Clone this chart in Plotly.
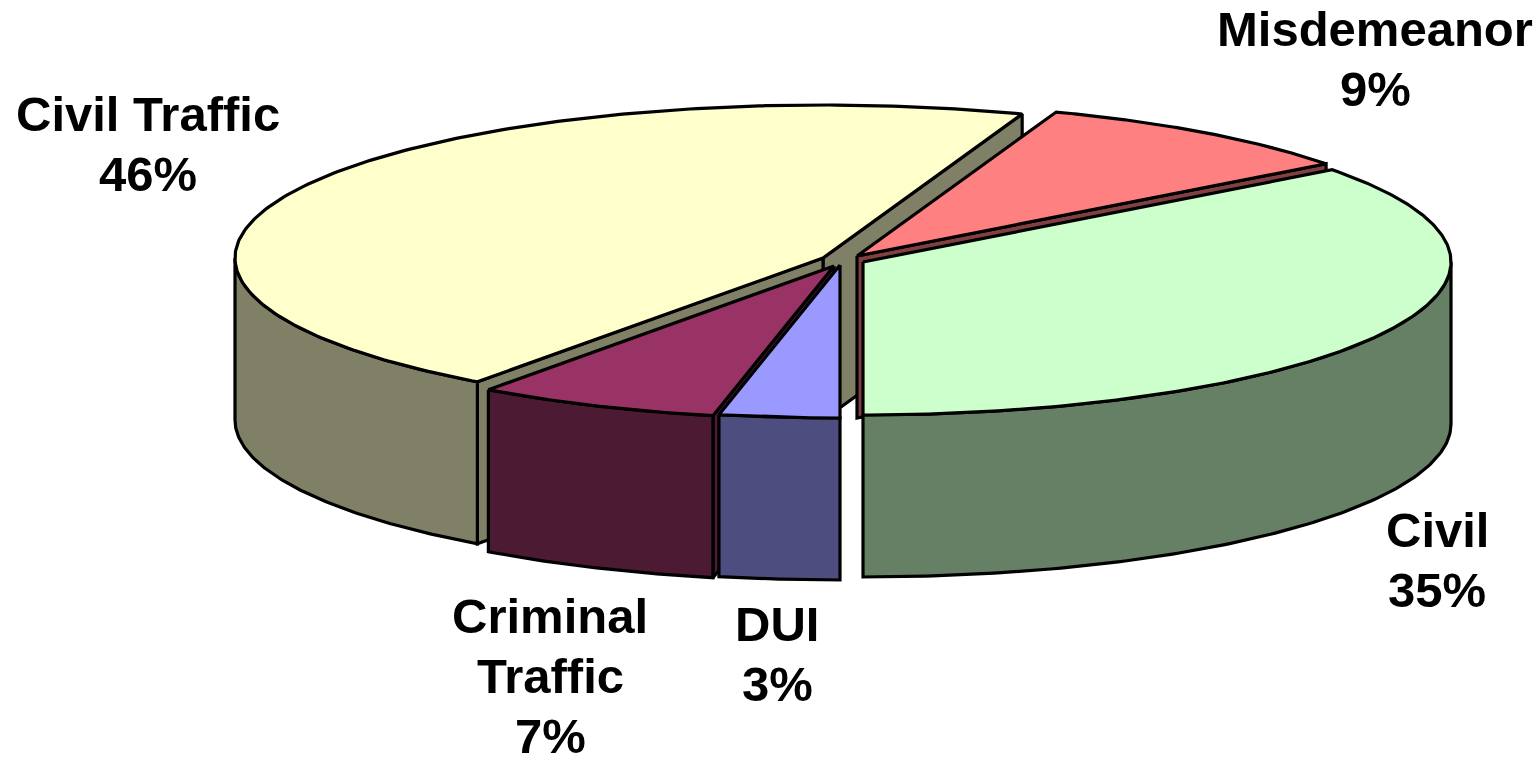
import numpy as np
import plotly.graph_objects as go

# Data
categories = ["Civil", "Misdemeanor", "Civil Traffic", "Criminal Traffic", "DUI"]
values = [35.3, 9.2, 45.5, 6.7, 3.3]
label_names = [["Civil"], ["Misdemeanor"], ["Civil Traffic"], ["Criminal", "Traffic"], ["DUI"]]
percent_labels = ["35%", "9%", "46%", "7%", "3%"]

# Style
top_colors = ["#CCFFCC", "#FF8080", "#FFFFCC", "#993366", "#9999FF"]
wall_colors = ["#668066", "#804040", "#808066", "#4D1A33", "#4D4D80"]

# Layout / projection of the exploded 3-D pie
slice_centers = [(863, 262), (857, 256), (823, 258), (834, 266), (840, 265)]
label_tops = [(1437, 530), (1375, 29), (148, 114), (550, 616), (777, 624)]
LINE_STEP = 60
RX, RY, DEPTH = 588, 153, 162
START_ANGLE = 270
draw_order = [2, 1, 3, 4, 0]


def rim(c, t):
    t = np.radians(t)
    return c[0] + RX * np.cos(t), c[1] - RY * np.sin(t)


def add_poly(fig, xs, ys, fill, name):
    fig.add_trace(go.Scatter(
        x=list(xs) + [xs[0]], y=list(ys) + [ys[0]], mode="lines", fill="toself",
        fillcolor=fill, line=dict(color="black", width=3.2), name=name,
        hoverinfo="name", showlegend=False))


def radial_wall(fig, c, t, color, name):
    x, y = rim(c, t)
    add_poly(fig, [c[0], x, x, c[0]],
             [c[1], y, y + DEPTH, c[1] + DEPTH], color, name)


total = sum(values)
spans = [v / total * 360 for v in values]
starts = START_ANGLE + np.concatenate([[0], np.cumsum(spans)[:-1]])

fig = go.Figure()
for i in draw_order:
    a, b = starts[i], starts[i] + spans[i]
    c = slice_centers[i]
    name = categories[i]
    if np.sin(np.radians(a - 90)) < -1e-6:
        radial_wall(fig, c, a, wall_colors[i], name)
    if np.sin(np.radians(b + 90)) < -1e-6:
        radial_wall(fig, c, b, wall_colors[i], name)
    # outer wall: only the part of the rim facing the viewer
    for k in (-1, 0, 1):
        lo = max(a, 180 + 360 * k)
        hi = min(b, 360 + 360 * k)
        if hi > lo:
            ts = np.linspace(lo, hi, 120)
            xs, ys = rim(c, ts)
            add_poly(fig, np.r_[xs, xs[::-1]], np.r_[ys, ys[::-1] + DEPTH],
                     wall_colors[i], name)
    ts = np.linspace(a, b, 240)
    xs, ys = rim(c, ts)
    add_poly(fig, np.r_[c[0], xs], np.r_[c[1], ys], top_colors[i], name)

for lines, pct, (x, y) in zip(label_names, percent_labels, label_tops):
    for n, line in enumerate(lines + [pct]):
        fig.add_annotation(
            x=x, y=y + n * LINE_STEP, xref="x", yref="y", text=line, showarrow=False,
            align="center", xanchor="center", yanchor="middle",
            font=dict(family="Liberation Sans", size=49, color="black", weight="bold"))

fig.update_xaxes(range=[0, 1537], visible=False, fixedrange=True)
fig.update_yaxes(range=[758, 0], visible=False, fixedrange=True)
fig.update_layout(width=1537, height=758, margin=dict(l=0, r=0, t=0, b=0),
                  paper_bgcolor="white", plot_bgcolor="white", showlegend=False)
fig.write_html("out.html", config={"displayModeBar": False},
               post_script="document.body.style.margin='0';document.body.style.overflow='hidden';")
